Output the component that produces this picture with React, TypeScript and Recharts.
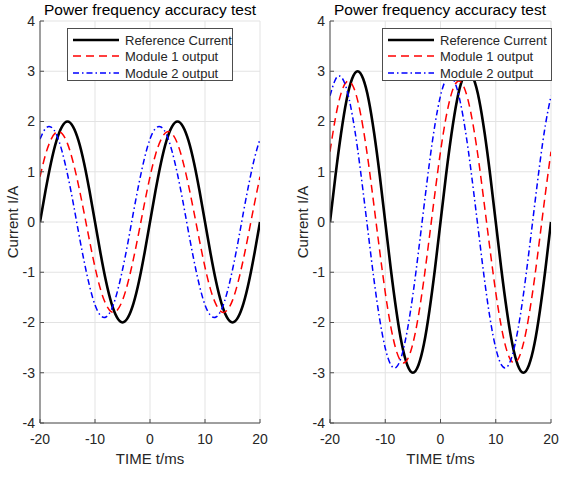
import React from "react";
import {
  LineChart,
  Line,
  CartesianGrid,
  XAxis,
  YAxis,
  Label,
} from "recharts";

// time axis, ms
const time = [
  -20, -19, -18, -17, -16, -15, -14, -13, -12, -11, -10, -9, -8, -7, -6, -5, -4,
  -3, -2, -1, 0, 1, 2, 3, 4, 5, 6, 7, 8, 9, 10, 11, 12, 13, 14, 15, 16, 17, 18,
  19, 20,
];

// left panel (2 A)
const refLeft = [
  0, 0.62, 1.18, 1.62, 1.9, 2, 1.9, 1.62, 1.18, 0.62, 0, -0.62, -1.18, -1.62,
  -1.9, -2, -1.9, -1.62, -1.18, -0.62, 0, 0.62, 1.18, 1.62, 1.9, 2, 1.9, 1.62,
  1.18, 0.62, 0, -0.62, -1.18, -1.62, -1.9, -2, -1.9, -1.62, -1.18, -0.62, 0,
];
const mod1Left = [
  0.9, 1.34, 1.64, 1.79, 1.76, 1.56, 1.2, 0.73, 0.19, -0.37, -0.9, -1.34, -1.64,
  -1.79, -1.76, -1.56, -1.2, -0.73, -0.19, 0.37, 0.9, 1.34, 1.64, 1.79, 1.76,
  1.56, 1.2, 0.73, 0.19, -0.37, -0.9, -1.34, -1.64, -1.79, -1.76, -1.56, -1.2,
  -0.73, -0.19, 0.37, 0.9,
];
const mod2Left = [
  1.65, 1.86, 1.89, 1.74, 1.41, 0.95, 0.4, -0.2, -0.77, -1.27, -1.65, -1.86,
  -1.89, -1.74, -1.41, -0.95, -0.4, 0.2, 0.77, 1.27, 1.65, 1.86, 1.89, 1.74,
  1.41, 0.95, 0.4, -0.2, -0.77, -1.27, -1.65, -1.86, -1.89, -1.74, -1.41, -0.95,
  -0.4, 0.2, 0.77, 1.27, 1.65,
];

// right panel (3 A)
const refRight = [
  0, 0.93, 1.76, 2.43, 2.85, 3, 2.85, 2.43, 1.76, 0.93, 0, -0.93, -1.76, -2.43,
  -2.85, -3, -2.85, -2.43, -1.76, -0.93, 0, 0.93, 1.76, 2.43, 2.85, 3, 2.85,
  2.43, 1.76, 0.93, 0, -0.93, -1.76, -2.43, -2.85, -3, -2.85, -2.43, -1.76,
  -0.93, 0,
];
const mod1Right = [
  1.4, 2.08, 2.56, 2.79, 2.74, 2.42, 1.87, 1.14, 0.29, -0.58, -1.4, -2.08, -2.56,
  -2.79, -2.74, -2.42, -1.87, -1.14, -0.29, 0.58, 1.4, 2.08, 2.56, 2.79, 2.74,
  2.42, 1.87, 1.14, 0.29, -0.58, -1.4, -2.08, -2.56, -2.79, -2.74, -2.42, -1.87,
  -1.14, -0.29, 0.58, 1.4,
];
const mod2Right = [
  2.51, 2.84, 2.89, 2.65, 2.15, 1.45, 0.6, -0.3, -1.18, -1.94, -2.51, -2.84,
  -2.89, -2.65, -2.15, -1.45, -0.6, 0.3, 1.18, 1.94, 2.51, 2.84, 2.89, 2.65,
  2.15, 1.45, 0.6, -0.3, -1.18, -1.94, -2.51, -2.84, -2.89, -2.65, -2.15, -1.45,
  -0.6, 0.3, 1.18, 1.94, 2.51,
];

const xTicks = [-20, -10, 0, 10, 20];
const yTicks = [-4, -3, -2, -1, 0, 1, 2, 3, 4];
const seriesNames = ["Reference Current", "Module 1 output", "Module 2 output"];
const chartTitle = "Power frequency accuracy test";

const FONT = "'Liberation Sans', Arial, sans-serif";
const AXIS = "#4d4d4d";
const TXT = "#262626";

const styles = [
  { stroke: "#000000", width: 2.6, dash: undefined },
  { stroke: "#ff0000", width: 1.5, dash: "8 5" },
  { stroke: "#0000ff", width: 1.5, dash: "6 3 1.5 3" },
];

const buildRows = (a: number[], b: number[], c: number[]) =>
  time.map((t, i) => ({ t, ref: a[i], m1: b[i], m2: c[i] }));

const LegendBox = ({ left, width }: { left: number; width: number }) => (
  <div
    style={{
      position: "absolute",
      left,
      top: 28,
      width,
      height: 53,
      boxSizing: "border-box",
      border: `1px solid ${AXIS}`,
      background: "#fff",
      fontFamily: FONT,
      fontSize: 13,
      color: TXT,
    }}
  >
    {seriesNames.map((name, i) => (
      <div
        key={name}
        style={{
          position: "absolute",
          left: 4,
          top: [3, 19, 36][i],
          height: 16,
          display: "flex",
          alignItems: "center",
          whiteSpace: "nowrap",
        }}
      >
        <svg width={48} height={16} style={{ marginRight: 5 }}>
          <line
            x1={1}
            y1={8}
            x2={47}
            y2={8}
            stroke={styles[i].stroke}
            strokeWidth={styles[i].width}
            strokeDasharray={styles[i].dash}
          />
        </svg>
        <span>{name}</span>
      </div>
    ))}
  </div>
);

const Panel = ({
  rows,
  left,
  yAxisWidth,
  legendLeft,
  legendWidth,
}: {
  rows: { t: number; ref: number; m1: number; m2: number }[];
  left: number;
  yAxisWidth: number;
  legendLeft: number;
  legendWidth: number;
}) => {
  const plotRight = 281 - yAxisWidth - 11;
  return (
    <div style={{ position: "absolute", left, top: 0, width: 281, height: 478 }}>
      <div
        style={{
          position: "absolute",
          left: yAxisWidth - 20,
          width: 260,
          top: 1,
          textAlign: "center",
          fontFamily: FONT,
          fontSize: 15.5,
          color: "#000",
          lineHeight: "18px",
        }}
      >
        {chartTitle}
      </div>
      <LineChart
        width={281}
        height={478}
        data={rows}
        margin={{ top: 21, right: yAxisWidth === 40 ? 21 : 11, bottom: 10, left: 0 }}
      >
        <CartesianGrid stroke="#e3e3e3" strokeWidth={1} />
        <XAxis
          dataKey="t"
          type="number"
          domain={[-20, 20]}
          ticks={xTicks}
          height={45}
          stroke={AXIS}
          tickSize={-4}
          tickMargin={15}
          tick={{ fill: TXT, fontSize: 14, fontFamily: FONT }}
          allowDataOverflow
        >
          <Label
            value="TIME t/ms"
            position="insideBottom"
            offset={4}
            style={{ fill: TXT, fontSize: 15, fontFamily: FONT }}
          />
        </XAxis>
        <XAxis
          xAxisId="top"
          dataKey="t"
          type="number"
          orientation="top"
          domain={[-20, 20]}
          ticks={xTicks}
          height={0}
          stroke={AXIS}
          tickSize={-4}
          tickFormatter={() => ""}
          allowDataOverflow
        />
        <YAxis
          type="number"
          domain={[-4, 4]}
          ticks={yTicks}
          width={yAxisWidth}
          stroke={AXIS}
          tickSize={-4}
          tickMargin={9}
          tick={{ fill: TXT, fontSize: 14, fontFamily: FONT }}
          allowDataOverflow
        >
          <Label
            content={(p: any) => {
              const vb = p.viewBox;
              const cx = vb.x + vb.width - 28;
              const cy = vb.y + vb.height / 2;
              return (
                <text
                  x={cx}
                  y={cy}
                  transform={`rotate(-90, ${cx}, ${cy})`}
                  textAnchor="middle"
                  dominantBaseline="central"
                  style={{ fill: TXT, fontSize: 15, fontFamily: FONT }}
                >
                  Current I/A
                </text>
              );
            }}
          />
        </YAxis>
        <YAxis
          yAxisId="right"
          type="number"
          orientation="right"
          domain={[-4, 4]}
          ticks={yTicks}
          width={0}
          stroke={AXIS}
          tickSize={-4}
          tickFormatter={() => ""}
          allowDataOverflow
        />
        <Line
          type="natural"
          dataKey="ref"
          stroke={styles[0].stroke}
          strokeWidth={styles[0].width}
          dot={false}
          isAnimationActive={false}
        />
        <Line
          type="natural"
          dataKey="m1"
          stroke={styles[1].stroke}
          strokeWidth={styles[1].width}
          strokeDasharray={styles[1].dash}
          dot={false}
          isAnimationActive={false}
        />
        <Line
          type="natural"
          dataKey="m2"
          stroke={styles[2].stroke}
          strokeWidth={styles[2].width}
          strokeDasharray={styles[2].dash}
          dot={false}
          isAnimationActive={false}
        />
      </LineChart>
      <LegendBox left={legendLeft} width={legendWidth} />
      {plotRight > 0 ? null : null}
    </div>
  );
};

export default function App() {
  return (
    <div
      style={{
        position: "absolute",
        left: 0,
        top: 0,
        width: 562,
        height: 478,
        background: "#fff",
        overflow: "hidden",
      }}
    >
      <Panel
        rows={buildRows(refLeft, mod1Left, mod2Left)}
        left={0}
        yAxisWidth={40}
        legendLeft={67}
        legendWidth={166}
      />
      <Panel
        rows={buildRows(refRight, mod1Right, mod2Right)}
        left={281}
        yAxisWidth={49}
        legendLeft={101}
        legendWidth={170}
      />
    </div>
  );
}
